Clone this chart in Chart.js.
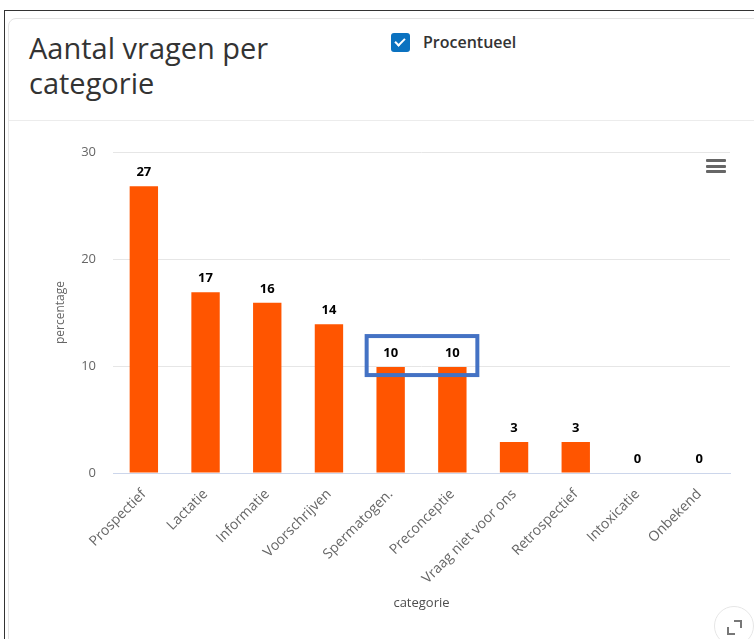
<!DOCTYPE html>
<html>
<head>
<meta charset="utf-8">
<script src="https://cdn.jsdelivr.net/npm/chart.js@4.4.1/dist/chart.umd.min.js"></script>
<style>
  html, body { margin: 0; padding: 0; background: #fff; width: 754px; height: 639px; overflow: hidden; font-family: "Open Sans", sans-serif; }
  .frame { position: absolute; left: 4px; top: 10px; width: 800px; height: 700px; border-left: 1px solid #333; border-top: 1px solid #333; }
  .card { position: absolute; left: 8px; top: 18px; width: 800px; height: 700px; border: 1px solid #e3e3e3; border-radius: 8px; }
  .title { position: absolute; left: 29px; top: 30px; width: 300px; font-size: 29px; line-height: 35px; color: #333; }
  .check { position: absolute; left: 391px; top: 33px; width: 19px; height: 19px; background: #0b72c0; border-radius: 3px; }
  .check:after { content: ""; position: absolute; left: 6px; top: 3px; width: 4px; height: 8px; border: solid #fff; border-width: 0 2px 2px 0; transform: rotate(45deg); }
  .check-label { position: absolute; left: 423px; top: 31px; font-size: 16px; font-weight: 600; color: #333; }
  .sep { position: absolute; left: 9px; top: 120px; width: 760px; height: 1px; background: #ececec; }
  .wrap { position: absolute; left: 9px; top: 122px; width: 745px; height: 517px; }
  .menu { position: absolute; left: 706px; top: 159px; width: 20px; }
  .menu div { height: 3px; background: #666; margin-bottom: 2.5px; border-radius: 1px; }
  .expand { position: absolute; left: 714px; top: 606px; width: 38px; height: 38px; border-radius: 50%; border: 1px solid #e6e6e6; background: #fff; }
  .expand .a { position: absolute; width: 6px; height: 6px; border-color: #777; border-style: solid; }
  .expand .tr { left: 19px; top: 13px; border-width: 2px 2px 0 0; }
  .expand .bl { left: 12px; top: 20px; border-width: 0 0 2px 2px; }
</style>
</head>
<body>
<div class="frame"></div>
<div class="card"></div>
<div class="title">Aantal vragen per categorie</div>
<div class="check"></div>
<div class="check-label">Procentueel</div>
<div class="sep"></div>
<div class="wrap"><canvas id="chart"></canvas></div>
<div class="menu"><div></div><div></div><div></div></div>
<div class="expand"><div class="a tr"></div><div class="a bl"></div></div>
<script>
const categories = ['Prospectief', 'Lactatie', 'Informatie', 'Voorschrijven', 'Spermatogen.',
  'Preconceptie', 'Vraag niet voor ons', 'Retrospectief', 'Intoxicatie', 'Onbekend'];
// percentages; labels show them rounded
const percentages = [26.8, 16.9, 15.9, 13.9, 9.9, 9.9, 2.9, 2.9, 0, 0];
const yTicks = [0, 10, 20, 30];
const highlighted = [4, 5];

const valueLabels = {
  id: 'valueLabels',
  afterDatasetsDraw(chart) {
    const ctx = chart.ctx;
    const meta = chart.getDatasetMeta(0);
    ctx.save();
    ctx.font = 'bold 13px "Open Sans"';
    ctx.textAlign = 'center';
    ctx.textBaseline = 'middle';
    ctx.fillStyle = '#000';
    meta.data.forEach((bar, i) => {
      ctx.fillText(String(Math.round(percentages[i])), bar.x, bar.y - 13.5);
    });
    ctx.restore();
  }
};

const highlightBox = {
  id: 'highlightBox',
  afterDraw(chart) {
    const x = chart.scales.x, y = chart.scales.y;
    const v = percentages[highlighted[0]];
    const left = x.getPixelForValue(highlighted[0]) - 24;
    const right = x.getPixelForValue(highlighted[1]) + 25;
    const top = y.getPixelForValue(v) - 31;
    const bottom = y.getPixelForValue(v) + 8;
    const ctx = chart.ctx;
    ctx.save();
    ctx.strokeStyle = '#4472c4';
    ctx.lineWidth = 4;
    ctx.strokeRect(left, top, right - left, bottom - top);
    ctx.restore();
  }
};

new Chart(document.getElementById('chart'), {
  type: 'bar',
  data: {
    labels: categories,
    datasets: [{
      label: 'percentage',
      data: percentages,
      backgroundColor: '#ff5500',
      barPercentage: 0.46,
      categoryPercentage: 1
    }]
  },
  options: {
    responsive: true,
    maintainAspectRatio: false,
    animation: false,
    layout: { padding: { top: 30, right: 24, left: 0, bottom: 0 } },
    plugins: {
      legend: { display: false },
      tooltip: { enabled: false }
    },
    scales: {
      x: {
        grid: { display: false },
        border: { color: '#ccd6eb' },
        ticks: {
          color: '#666',
          font: { family: 'Open Sans', size: 14 },
          minRotation: 45,
          maxRotation: 45,
          padding: 5
        },
        title: {
          display: true,
          text: 'categorie',
          color: '#4d4d4d',
          font: { family: 'Open Sans', size: 13 },
          padding: { bottom: 28 }
        },
        afterFit(scale) { scale.height = 166; }
      },
      y: {
        min: 0,
        max: 30,
        afterBuildTicks(scale) { scale.ticks = yTicks.map(v => ({ value: v })); },
        grid: {
          color: ctx => ctx.tick.value === 0 ? '#ccd6eb' : '#e6e6e6',
          drawTicks: false
        },
        border: { display: false },
        ticks: {
          color: '#666',
          font: { family: 'Open Sans', size: 13 },
          padding: 17
        },
        title: {
          display: true,
          text: 'percentage',
          color: '#666',
          font: { family: 'Open Sans', size: 12 },
          padding: { top: 44 }
        },
        afterFit(scale) { scale.width = 104; }
      }
    }
  },
  plugins: [valueLabels, highlightBox]
});
</script>
</body>
</html>
